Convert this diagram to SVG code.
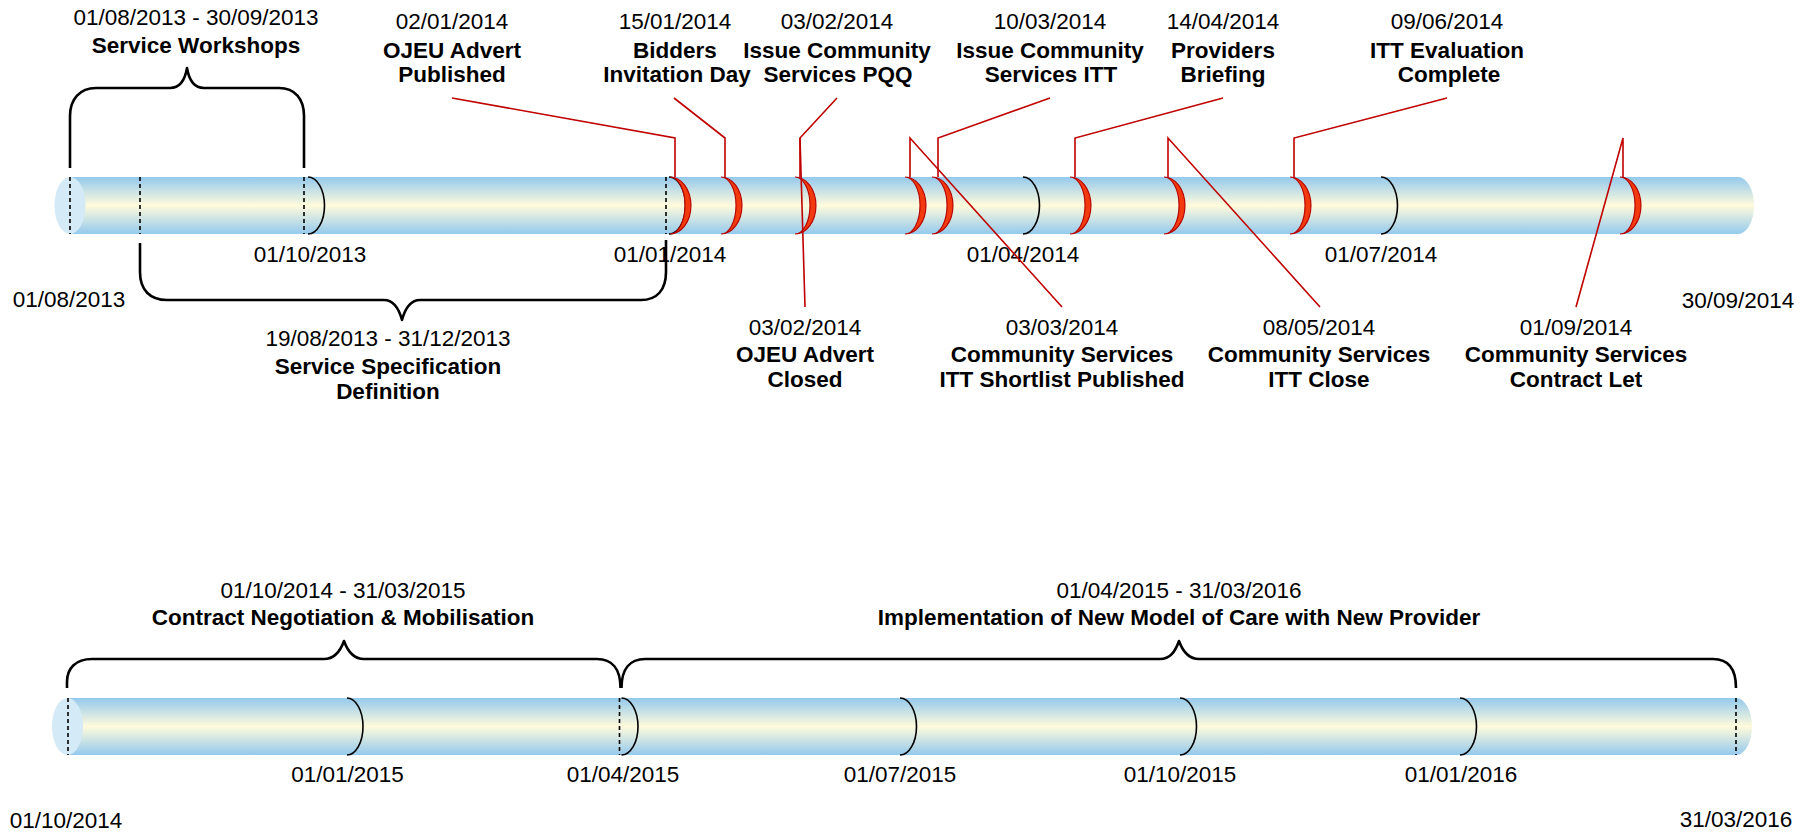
<svg xmlns="http://www.w3.org/2000/svg" width="1811" height="834" viewBox="0 0 1811 834">
  <defs>
    <linearGradient id="tube" x1="0" y1="0" x2="0" y2="1">
      <stop offset="0" stop-color="#94c9ed"/>
      <stop offset="0.5" stop-color="#fffbdc"/>
      <stop offset="1" stop-color="#94c9ed"/>
    </linearGradient>
    <style>
      text { font-family: "Liberation Sans", Arial, sans-serif; font-size: 22.5px; fill: #000; text-anchor: middle; }
      .b { font-weight: bold; }
      .tube { fill: url(#tube); stroke: none; }
      .cap { fill: #d5eaf7; stroke: none; }
      .dash { stroke: #000; stroke-width: 1.6; stroke-dasharray: 4 3; fill: none; }
      .tick { stroke: #000; stroke-width: 1.6; fill: none; }
      .brace { stroke: #000; stroke-width: 2.6; fill: none; stroke-linejoin: round; }
      .mark { fill: #f23a0e; stroke: #b30000; stroke-width: 1.1; }
      .lead { stroke: #c00000; stroke-width: 1.6; fill: none; }
    </style>
  </defs>
  <rect width="1811" height="834" fill="#fff"/>

  <!-- Timeline 1: 01/08/2013 - 30/09/2014 -->
  <g id="timeline-2013-2014">
    <path class="tube" d="M70,177 H1738 A16,28.5 0 0 1 1738,234 H70 Z"/>
    <ellipse class="cap" cx="70" cy="205.5" rx="15.5" ry="28.5"/>
    <path class="tick" d="M308,177 A16.5,28.5 0 0 1 308,234"/>
    <path class="tick" d="M669,177 A16.5,28.5 0 0 1 669,234"/>
    <path class="tick" d="M1023,177 A16.5,28.5 0 0 1 1023,234"/>
    <path class="tick" d="M1381,177 A16.5,28.5 0 0 1 1381,234"/>
    <line class="dash" x1="70" y1="177" x2="70" y2="234"/>
    <line class="dash" x1="140" y1="177" x2="140" y2="234"/>
    <line class="dash" x1="304" y1="177" x2="304" y2="234"/>
    <line class="dash" x1="666" y1="177" x2="666" y2="234"/>
    <text x="69" y="307">01/08/2013</text>
    <text x="310" y="261.5">01/10/2013</text>
    <text x="670" y="261.5">01/01/2014</text>
    <text x="1023" y="261.5">01/04/2014</text>
    <text x="1381" y="261.5">01/07/2014</text>
    <text x="1738" y="308">30/09/2014</text>
  </g>

  <!-- Timeline 2: 01/10/2014 - 31/03/2016 -->
  <g id="timeline-2014-2016">
    <path class="tube" d="M68,698 H1736 A16,28.5 0 0 1 1736,755 H68 Z"/>
    <ellipse class="cap" cx="67.5" cy="726.5" rx="15.5" ry="28.5"/>
    <path class="tick" d="M347,698 A16,28.5 0 0 1 347,755"/>
    <path class="tick" d="M621.5,698 A16.5,28.5 0 0 1 621.5,755"/>
    <path class="tick" d="M900,698 A16.5,28.5 0 0 1 900,755"/>
    <path class="tick" d="M1180,698 A16.5,28.5 0 0 1 1180,755"/>
    <path class="tick" d="M1460,698 A16.5,28.5 0 0 1 1460,755"/>
    <line class="dash" x1="68" y1="698" x2="68" y2="755"/>
    <line class="dash" x1="619.5" y1="698" x2="619.5" y2="755"/>
    <line class="dash" x1="1736" y1="698" x2="1736" y2="755"/>
    <text x="66" y="827.5">01/10/2014</text>
    <text x="347.5" y="782">01/01/2015</text>
    <text x="623" y="782">01/04/2015</text>
    <text x="900" y="782">01/07/2015</text>
    <text x="1180" y="782">01/10/2015</text>
    <text x="1461" y="782">01/01/2016</text>
    <text x="1736" y="827">31/03/2016</text>
  </g>

  <!-- Interval braces -->
  <g id="interval-service-workshops">
    <path class="brace" d="M70,168 V116 C70,99 80,88 96,88 H170 C180,88 185,80 187,68 C189,80 194,88 204,88 H279 C295,88 304,99 304,116 V168"/>
    <text x="196" y="25">01/08/2013 - 30/09/2013</text>
    <text class="b" x="196" y="53">Service Workshops</text>
  </g>
  <g id="interval-service-specification">
    <path class="brace" d="M140,243 V272 C140,290 150,300 167,300 H384 C394,300 399,309 402,320 C405,309 410,300 420,300 H641 C657,300 666,290 666,272 V240"/>
    <text x="388" y="346">19/08/2013 - 31/12/2013</text>
    <text class="b" x="388" y="373.5">Service Specification</text>
    <text class="b" x="388" y="398.5">Definition</text>
  </g>
  <g id="interval-contract-negotiation">
    <path class="brace" d="M67,688 V682 C67,668 76,659 92,659 H324 C334,659 340,652 344,641 C348,652 354,659 364,659 H597 C612,659 620.5,669 620.5,688"/>
    <text x="343" y="598">01/10/2014 - 31/03/2015</text>
    <text class="b" x="343" y="624.5">Contract Negotiation &amp; Mobilisation</text>
  </g>
  <g id="interval-implementation">
    <path class="brace" d="M621.5,688 C621.5,669 630,659 645,659 H1160 C1170,659 1175,652 1179,641 C1183,652 1189,659 1199,659 H1713 C1728,659 1736,669 1736,688"/>
    <text x="1179" y="598">01/04/2015 - 31/03/2016</text>
    <text class="b" x="1179" y="624.5">Implementation of New Model of Care with New Provider</text>
  </g>

  <!-- Leader lines from milestones to their labels -->
  <g id="connectors">
    <polyline class="lead" points="452,98 675,138 675,177"/>
    <polyline class="lead" points="674,98 725,138 725,177"/>
    <polyline class="lead" points="837,98 800,138 800,177"/>
    <polyline class="lead" points="1050,98 938,138 938,177"/>
    <polyline class="lead" points="1223,98 1075,138 1075,177"/>
    <polyline class="lead" points="1447,98 1294,138 1294,177"/>
    <line class="lead" x1="800" y1="138" x2="805" y2="307"/>
    <polyline class="lead" points="910,177 910,138 1062,307"/>
    <polyline class="lead" points="1168,177 1168,138 1320,307"/>
    <polyline class="lead" points="1623,177 1623,138 1576,307"/>
  </g>

  <!-- Milestones -->
  <g id="m-ojeu-published">
    <path class="mark" d="M670,177 A21,28.5 0 0 1 670,234 A15,28.5 0 0 0 670,177 Z"/>
    <text x="452" y="29">02/01/2014</text>
    <text class="b" x="452" y="57.5">OJEU Advert</text>
    <text class="b" x="452" y="81.5">Published</text>
  </g>
  <g id="m-bidders-day">
    <path class="mark" d="M721,177 A21,28.5 0 0 1 721,234 A15,28.5 0 0 0 721,177 Z"/>
    <text x="675" y="29">15/01/2014</text>
    <text class="b" x="675" y="57.5">Bidders</text>
    <text class="b" x="677" y="81.5">Invitation Day</text>
  </g>
  <g id="m-issue-pqq">
    <path class="mark" d="M795,177 A21,28.5 0 0 1 795,234 A15,28.5 0 0 0 795,177 Z"/>
    <text x="837" y="29">03/02/2014</text>
    <text class="b" x="837" y="57.5">Issue Community</text>
    <text class="b" x="838" y="81.5">Services PQQ</text>
  </g>
  <g id="m-ojeu-closed">
    <text x="805" y="335">03/02/2014</text>
    <text class="b" x="805" y="362">OJEU Advert</text>
    <text class="b" x="805" y="387">Closed</text>
  </g>
  <g id="m-itt-shortlist">
    <path class="mark" d="M905,177 A21,28.5 0 0 1 905,234 A15,28.5 0 0 0 905,177 Z"/>
    <text x="1062" y="335">03/03/2014</text>
    <text class="b" x="1062" y="362">Community Services</text>
    <text class="b" x="1062" y="387">ITT Shortlist Published</text>
  </g>
  <g id="m-issue-itt">
    <path class="mark" d="M932,177 A21,28.5 0 0 1 932,234 A15,28.5 0 0 0 932,177 Z"/>
    <text x="1050" y="29">10/03/2014</text>
    <text class="b" x="1050" y="57.5">Issue Community</text>
    <text class="b" x="1051" y="81.5">Services ITT</text>
  </g>
  <g id="m-providers-briefing">
    <path class="mark" d="M1070,177 A21,28.5 0 0 1 1070,234 A15,28.5 0 0 0 1070,177 Z"/>
    <text x="1223" y="29">14/04/2014</text>
    <text class="b" x="1223" y="57.5">Providers</text>
    <text class="b" x="1223" y="81.5">Briefing</text>
  </g>
  <g id="m-itt-close">
    <path class="mark" d="M1164,177 A21,28.5 0 0 1 1164,234 A15,28.5 0 0 0 1164,177 Z"/>
    <text x="1319" y="335">08/05/2014</text>
    <text class="b" x="1319" y="362">Community Services</text>
    <text class="b" x="1319" y="387">ITT Close</text>
  </g>
  <g id="m-itt-evaluation">
    <path class="mark" d="M1290,177 A21,28.5 0 0 1 1290,234 A15,28.5 0 0 0 1290,177 Z"/>
    <text x="1447" y="29">09/06/2014</text>
    <text class="b" x="1447" y="57.5">ITT Evaluation</text>
    <text class="b" x="1449" y="81.5">Complete</text>
  </g>
  <g id="m-contract-let">
    <path class="mark" d="M1620,177 A21,28.5 0 0 1 1620,234 A15,28.5 0 0 0 1620,177 Z"/>
    <text x="1576" y="335">01/09/2014</text>
    <text class="b" x="1576" y="362">Community Services</text>
    <text class="b" x="1576" y="387">Contract Let</text>
  </g>
</svg>
